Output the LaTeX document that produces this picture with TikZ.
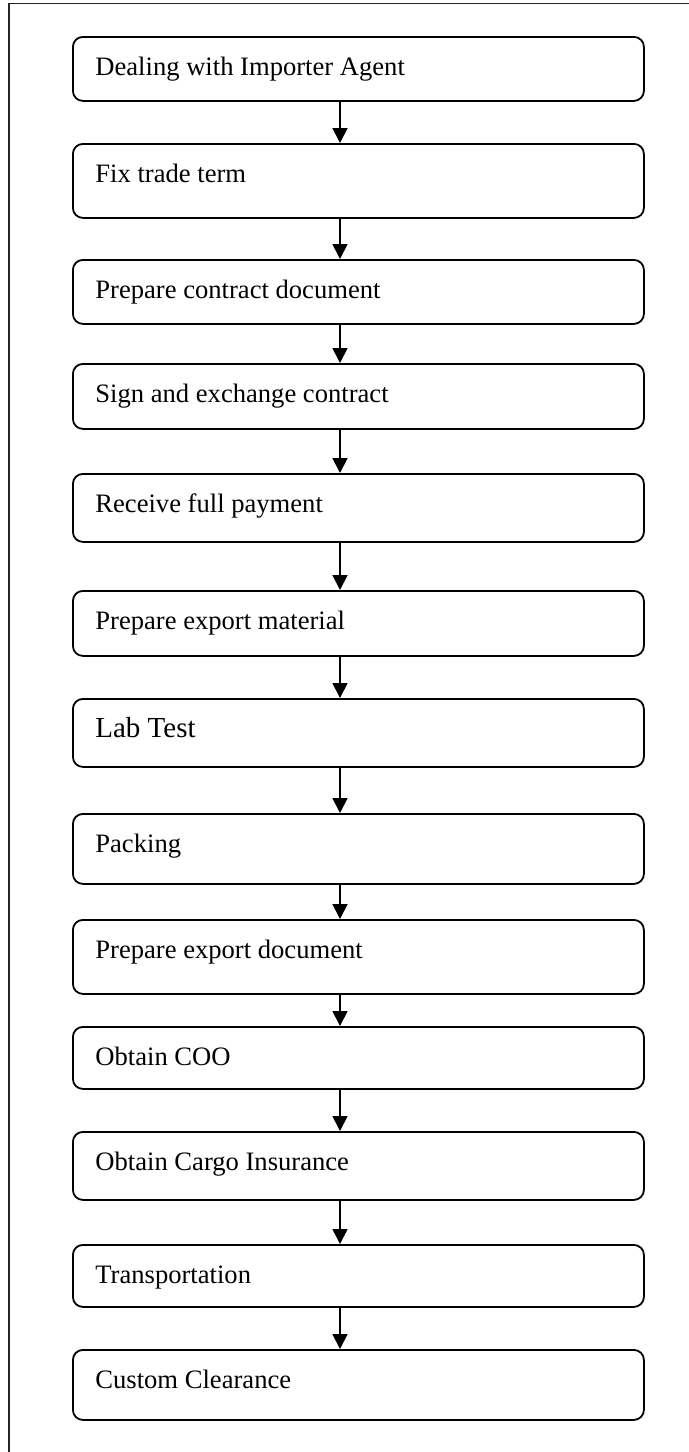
\documentclass[tikz,border=0pt]{standalone}
\usepackage{fontspec}
\setmainfont{Liberation Serif}
\usetikzlibrary{arrows.meta}
\begin{document}
\begin{tikzpicture}[x=0.5pt,y=-0.5pt,
  box/.style={draw=black, line width=0.9pt, rounded corners=5pt, anchor=north west,
    minimum width=285.5pt, inner sep=0pt},
  lbl/.style={anchor=base west, inner sep=0pt, font=\fontsize{13.3}{16}\selectfont},
  biglbl/.style={lbl, font=\fontsize{14.5}{17}\selectfont},
  arr/.style={line width=0.9pt, -{Triangle[width=7.5pt,length=7.5pt]}},
  frame/.style={line width=0.7pt, draw=black!85}]
\useasboundingbox (0,0) rectangle (689,1452);
\draw[frame] (9,1452) -- (9,3.5) -- (689,3.5);
\coordinate (ax) at (340,0);
\foreach \i/\t/\b/\s/\txt in {
  1/36/100/lbl/{Dealing with Importer Agent},
  2/143/217/lbl/{Fix trade term},
  3/259/323/lbl/{Prepare contract document},
  4/363/428/lbl/{Sign and exchange contract},
  5/473/541/lbl/{Receive full payment},
  6/590/655/lbl/{Prepare export material},
  7/698/766/biglbl/{Lab Test},
  8/813/883/lbl/{Packing},
  9/919/993/lbl/{Prepare export document},
  10/1026/1088/lbl/{Obtain COO},
  11/1131/1199/lbl/{Obtain Cargo Insurance},
  12/1244/1306/lbl/{Transportation},
  13/1349/1419/lbl/{Custom Clearance}}{
  \node[box, minimum height={(\b-\t)*0.5pt}] (b\i) at (72,\t) {};
  \node[\s] (t\i) at (95,\t+39) {\txt};
}
\foreach \i [evaluate=\i as \j using int(\i+1)] in {1,...,12}{
  \draw[arr] (ax |- b\i.south) -- (ax |- b\j.north);
}
\end{tikzpicture}
\end{document}
